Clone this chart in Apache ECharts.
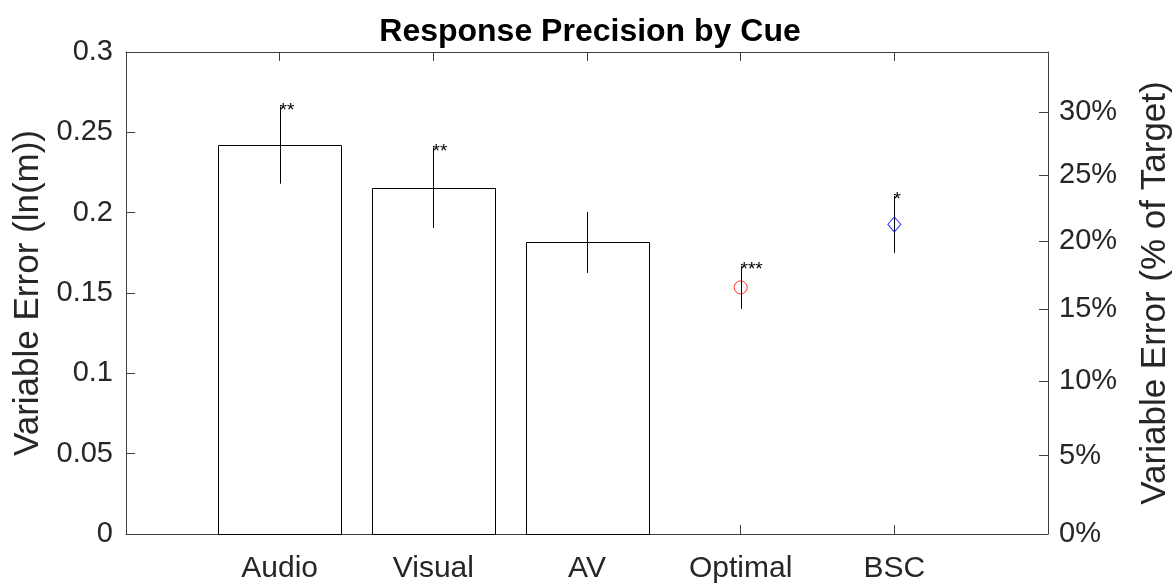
<!DOCTYPE html>
<html>
<head>
<meta charset="utf-8">
<script src="https://cdn.jsdelivr.net/npm/echarts@6/dist/echarts.min.js"></script>
<style>
html,body{margin:0;padding:0;background:#fff;}
#chart{width:1174px;height:583px;}
</style>
</head>
<body>
<div id="chart"></div>
<script>
// ---- data ----
const categories = ['Audio', 'Visual', 'AV', 'Optimal', 'BSC'];
const means = [0.242, 0.2155, 0.1815, 0.1535, 0.1927];
const errors = [0.024, 0.025, 0.019, 0.0133, 0.0177];
const stars = ['**', '**', '', '***', '*'];
const barCount = 3;                       // first three cues are drawn as bars
const leftTickValues = [0, 0.05, 0.1, 0.15, 0.2, 0.25, 0.3];
const rightTickPercents = [0, 5, 10, 15, 20, 25, 30];

const FONT = '"Liberation Sans", Arial, Helvetica, sans-serif';
const AXIS = '#404040';
const TXT = '#262626';

const rightTickPos = rightTickPercents.map(p => Math.log(1 + p / 100));

const barData = categories.slice(0, barCount).map((c, i) => [i + 1, means[i]]);
const errData = categories.map((c, i) => [i + 1, means[i] - errors[i], means[i] + errors[i], i]);

const chart = echarts.init(document.getElementById('chart'), null, {renderer: 'canvas'});

const axisLine = {show: true, onZero: false, lineStyle: {color: AXIS, width: 1}};

const option = {
  animation: false,
  backgroundColor: '#fff',
  title: {
    text: 'Response Precision by Cue',
    left: 585, top: 11, textAlign: 'center',
    textStyle: {fontFamily: FONT, fontSize: 32, fontWeight: 'bold', color: '#000'}
  },
  grid: {left: 126, right: 126, top: 52, bottom: 49, containLabel: false, outerBoundsMode: 'none'},
  xAxis: [{
    type: 'value', min: 0, max: 6, interval: 1, position: 'bottom',
    axisLine: axisLine,
    axisTick: {show: true, inside: true, length: 9, lineStyle: {color: AXIS}},
    axisLabel: {
      margin: 20, color: TXT, fontFamily: FONT, fontSize: 30,
      formatter: v => (categories[v - 1] || '')
    },
    splitLine: {show: false}
  }, {
    type: 'value', min: 0, max: 6, interval: 1, position: 'top',
    axisLine: axisLine,
    axisTick: {show: true, inside: true, length: 9, lineStyle: {color: AXIS}},
    axisLabel: {show: false},
    splitLine: {show: false}
  }],
  yAxis: [{
    type: 'value', min: 0, max: 0.3, interval: 0.05, position: 'left',
    name: 'Variable Error (ln(m))', nameLocation: 'middle', nameGap: 79, nameRotate: 90,
    nameTextStyle: {fontFamily: FONT, fontSize: 35, color: TXT},
    axisLine: axisLine,
    axisTick: {show: true, inside: true, length: 9, lineStyle: {color: AXIS}},
    axisLabel: {
      margin: 13, color: TXT, fontFamily: FONT, fontSize: 29,
      formatter: v => String(+v.toFixed(2))
    },
    splitLine: {show: false}
  }, {
    type: 'value', min: 0, max: 0.3, position: 'right',
    name: 'Variable Error (% of Target)', nameLocation: 'middle', nameGap: 90, nameRotate: 90,
    nameTextStyle: {fontFamily: FONT, fontSize: 35, color: TXT},
    axisLine: axisLine,
    axisTick: {show: true, inside: true, length: 9, lineStyle: {color: AXIS}, customValues: rightTickPos},
    axisLabel: {
      margin: 11, color: TXT, fontFamily: FONT, fontSize: 29, customValues: rightTickPos,
      formatter: v => Math.round((Math.exp(v) - 1) * 100) + '%'
    },
    splitLine: {show: false}
  }],
  series: [{
    type: 'custom',
    name: 'bars',
    xAxisIndex: 0, yAxisIndex: 0,
    data: barData,
    renderItem: function (params, api) {
      const x = api.value(0), y = api.value(1);
      const p1 = api.coord([x - 0.4, y]);
      const p2 = api.coord([x + 0.4, 0]);
      return {
        type: 'rect',
        shape: {x: Math.round(p1[0]) + 0.5, y: Math.round(p1[1]) + 0.5,
                width: Math.round(p2[0] - p1[0]), height: Math.round(p2[1] - p1[1])},
        style: {fill: '#fff', stroke: '#000', lineWidth: 1}
      };
    },
    z: 1
  }, {
    type: 'custom',
    name: 'errors',
    xAxisIndex: 0, yAxisIndex: 0,
    data: errData,
    renderItem: function (params, api) {
      const x = api.value(0);
      const lo = api.coord([x, api.value(1)]);
      const hi = api.coord([x, api.value(2)]);
      const idx = api.value(3);
      const cx = Math.round(lo[0]) + 0.5;
      const children = [{
        type: 'line',
        shape: {x1: cx, y1: lo[1], x2: cx, y2: hi[1]},
        style: {stroke: '#000', lineWidth: 1}
      }];
      if (stars[idx]) {
        children.push({
          type: 'text',
          x: cx - 1, y: hi[1] + 4,
          style: {text: stars[idx], fontFamily: FONT, fontSize: 19, fill: '#000',
                  align: 'left', verticalAlign: 'middle'}
        });
      }
      return {type: 'group', children: children};
    },
    z: 2
  }, {
    type: 'scatter',
    name: categories[3],
    xAxisIndex: 0, yAxisIndex: 0,
    data: [[4, means[3]]],
    symbol: 'circle', symbolSize: 13,
    itemStyle: {color: 'rgba(0,0,0,0)', borderColor: '#ff0000', borderWidth: 1},
    z: 3
  }, {
    type: 'scatter',
    name: categories[4],
    xAxisIndex: 0, yAxisIndex: 0,
    data: [[5, means[4]]],
    symbol: 'diamond', symbolSize: [13, 15],
    itemStyle: {color: 'rgba(0,0,0,0)', borderColor: '#0000ff', borderWidth: 1},
    z: 3
  }]
};
chart.setOption(option);
</script>
</body>
</html>
